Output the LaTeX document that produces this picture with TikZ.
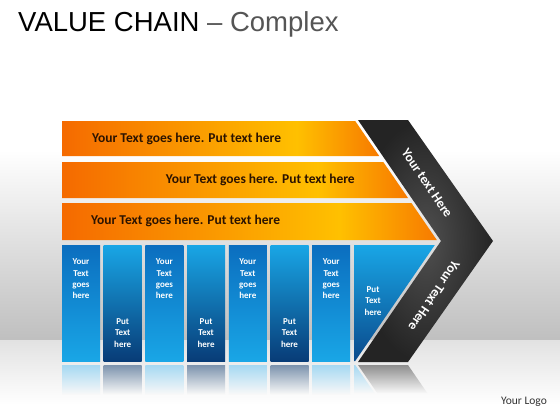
\documentclass[tikz,border=0pt]{standalone}
\usepackage{fontspec}
\setmainfont{Carlito}
\newfontfamily\titlefont{Liberation Sans}
\definecolor{oA}{HTML}{F56A00}
\definecolor{oY}{HTML}{FFC000}
\definecolor{oB}{HTML}{F77A00}
\definecolor{barink}{HTML}{2B1300}
\definecolor{bgGrey}{HTML}{BFBFBF}
\definecolor{floorTop}{HTML}{E2E2E2}
\definecolor{floorEnd}{HTML}{F8F8F8}
\definecolor{blueDark}{HTML}{0B6EBF}
\definecolor{blueLight}{HTML}{19A6E6}
\definecolor{navy}{HTML}{083C77}
\definecolor{navyB}{HTML}{0A4A8C}
\definecolor{reflLight}{HTML}{A5D8F2}
\definecolor{reflDark}{HTML}{7C93AD}
\definecolor{reflGrey}{HTML}{8E8E8E}
\definecolor{bandDark}{HTML}{242424}
\definecolor{bandLight}{HTML}{505050}
\definecolor{titleGrey}{HTML}{555555}
\definecolor{logoInk}{HTML}{333333}
\pgfdeclarehorizontalshading{orangebar}{100bp}{color(0bp)=(oA); color(25bp)=(oA); color(62bp)=(oY); color(75bp)=(oB); color(100bp)=(oB)}
\begin{document}
\begin{tikzpicture}[x=1pt,y=-1pt,
  bartext/.style={font=\bfseries\fontsize{13.5}{15}\selectfont, text=barink, inner sep=0pt},
  coltext/.style={font=\bfseries\fontsize{9}{11.3}\selectfont, text=white, align=center, inner sep=0pt},
  bandtext/.style={font=\bfseries\fontsize{13.5}{15}\selectfont, text=white, inner sep=0pt},
  orangebarshape/.style={shading=orangebar},
  oddcol/.style={top color=blueDark, bottom color=blueLight},
  evencol/.style={top color=blueLight, bottom color=navy},
  oddrefl/.style={top color=reflLight, bottom color=floorEnd},
  evenrefl/.style={top color=reflDark, bottom color=floorEnd}]
\useasboundingbox (0,0) rectangle (560,420);
% background
\fill[white] (0,0) rectangle (560,150);
\shade[top color=white, bottom color=bgGrey] (0,150) rectangle (560,340.5);
\shade[top color=floorTop, bottom color=white] (0,340) rectangle (560,405);
\fill[white] (0,405) rectangle (560,420);
% title
\node[anchor=base west, inner sep=0pt, font=\titlefont\fontsize{27.5}{30}\selectfont] (title) at (18,32) {VALUE CHAIN \textcolor{titleGrey}{– Complex}};
% orange bars
\shade[orangebarshape] (62,121) -- (355.2,121) -- (379.2,156) -- (62,156) -- cycle;
\shade[orangebarshape] (62,162) -- (383.3,162) -- (408.0,198) -- (62,198) -- cycle;
\shade[orangebarshape] (62,203) -- (411.4,203) -- (436.8,240) -- (62,240) -- cycle;
% dark chevron band
\shade[inner color=bandLight, outer color=bandDark] (358,120) -- (408,120) -- (493,241) -- (408,362) -- (358,362) -- (441,241) -- cycle;
% blue columns
\foreach \i in {0,2,4,6} {
  \shade[oddcol] ({62+\i*41.7},245) rectangle ({100+\i*41.7},361);
}
\foreach \i in {1,3,5} {
  \shade[evencol] ({62+\i*41.7},245) rectangle ({100+\i*41.7},361);
}
\shade[top color=blueLight, bottom color=navyB] (354,245) -- (434.8,245) -- (355.2,361) -- (354,361) -- cycle;
% reflections
\foreach \i in {0,2,4,6} {
  \shade[oddrefl] ({62+\i*41.7},365) rectangle ({100+\i*41.7},394);
}
\foreach \i in {1,3,5} {
  \shade[evenrefl] ({62+\i*41.7},365) rectangle ({100+\i*41.7},394);
}
\shade[top color=reflLight, bottom color=floorEnd] (354,365) -- (355.2,365) -- (374.5,393) -- (354,393) -- cycle;
\shade[top color=reflGrey, bottom color=floorEnd] (358,365) -- (408,365) -- (427.2,393) -- (377.2,393) -- cycle;
% bar texts
\node[bartext, anchor=west] (t1) at (92,139) {Your Text goes here. Put text here};
\node[bartext, anchor=east] (t2) at (355,180) {Your Text goes here. Put text here};
\node[bartext, anchor=west] (t3) at (91,221) {Your Text goes here. Put text here};
% column texts
\node[coltext] (c1) at (81,279) {Your\\Text\\goes\\here};
\node[coltext] (c3) at (164.4,279) {Your\\Text\\goes\\here};
\node[coltext] (c5) at (247.8,279) {Your\\Text\\goes\\here};
\node[coltext] (c7) at (331.2,279) {Your\\Text\\goes\\here};
\node[coltext] (c2) at (122.7,333) {Put\\Text\\here};
\node[coltext] (c4) at (206.1,333) {Put\\Text\\here};
\node[coltext] (c6) at (289.5,333) {Put\\Text\\here};
\node[coltext] (c8) at (373,301) {Put\\Text\\here};
% band texts
\node[bandtext, rotate=-56] (b1) at (427,183) {Your text Here};
\node[bandtext, rotate=-124] (b2) at (434,296) {Your Text Here};
% logo
\node[inner sep=0pt, font=\fontsize{11.5}{13}\selectfont, text=logoInk] (logo) at (524,402) {Your Logo};
\end{tikzpicture}
\end{document}
